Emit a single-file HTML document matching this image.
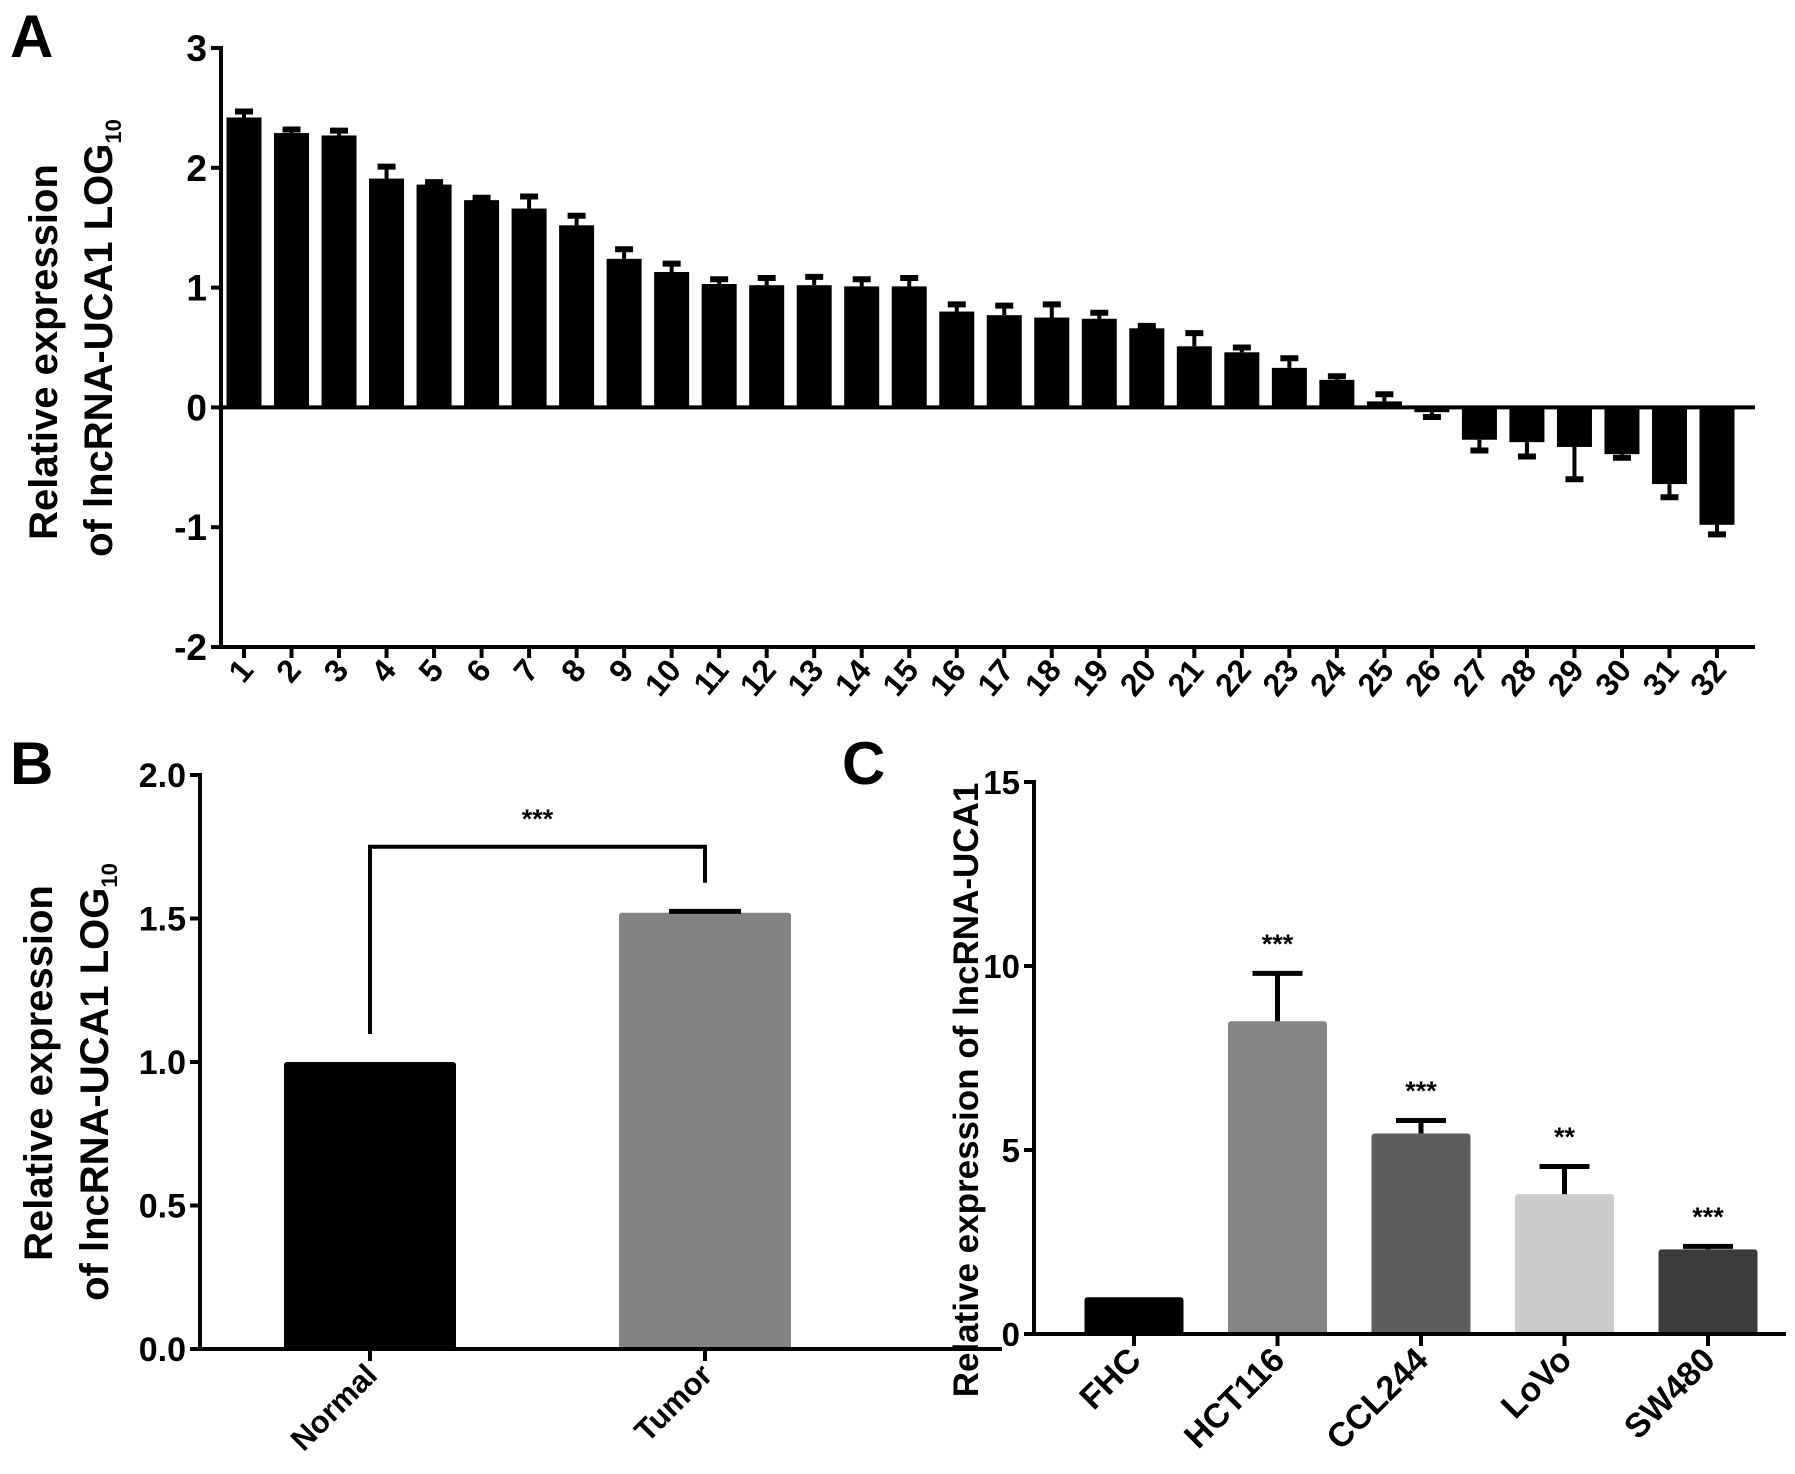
<!DOCTYPE html>
<html><head><meta charset="utf-8"><style>
html,body{margin:0;padding:0;background:#fff;}
svg{display:block;font-family:"Liberation Sans",Arial,sans-serif;font-weight:bold;}
</style></head><body>
<svg id="fig" width="1795" height="1474" viewBox="0 0 1795 1474" xmlns="http://www.w3.org/2000/svg">
<rect width="1795" height="1474" fill="#fff"/>
<text x="10" y="57" font-size="60">A</text>
<text x="10" y="784" font-size="60">B</text>
<text x="842" y="784" font-size="60">C</text>
<g id="gA"></g>
<g id="gB"></g>
<g id="gC"></g>
</svg>
<script>
// Panel A data
const aCategories = ["1","2","3","4","5","6","7","8","9","10","11","12","13","14","15","16","17","18","19","20","21","22","23","24","25","26","27","28","29","30","31","32"];
const aValues = [2.42,2.29,2.27,1.91,1.86,1.73,1.66,1.52,1.24,1.13,1.03,1.02,1.02,1.01,1.01,0.80,0.77,0.75,0.74,0.66,0.51,0.46,0.33,0.23,0.05,-0.04,-0.27,-0.29,-0.33,-0.39,-0.64,-0.98];
const aErrors = [0.05,0.03,0.04,0.10,0.02,0.02,0.10,0.08,0.08,0.07,0.04,0.06,0.07,0.06,0.07,0.06,0.08,0.11,0.05,0.02,0.11,0.04,0.08,0.03,0.06,0.04,0.09,0.12,0.27,0.03,0.11,0.08];
const aTicks = [3,2,1,0,-1,-2];
// Panel B data
const bCategories = ["Normal","Tumor"];
const bValues = [1.0,1.52];
const bErrors = [0,0.005];
const bTicks = ["0.0","0.5","1.0","1.5","2.0"];
// Panel C data
const cCategories = ["FHC","HCT116","CCL244","LoVo","SW480"];
const cValues = [1.0,8.5,5.45,3.8,2.3];
const cErrors = [0,1.3,0.35,0.75,0.08];
const cStars = ["","***","***","**","***"];
const cTicks = [0,5,10,15];

const NS="http://www.w3.org/2000/svg";
function mk(parent,tag,attrs,text){const e=document.createElementNS(NS,tag);for(const k in attrs)e.setAttribute(k,attrs[k]);if(text!==undefined)e.textContent=text;parent.appendChild(e);return e;}

// ---------- Panel A ----------
(function(){
const g=document.getElementById('gA');
const x0=221,xEnd=1755,yMin=-2,yMax=3,yTop=48,yBot=647;
const y=v=>yTop+(yMax-v)/(yMax-yMin)*(yBot-yTop);
const first=244,step=(1717-244)/(aCategories.length-1);
const x=i=>first+i*step;
const bw=35;
let l=mk(g,'line',{x1:x0,y1:yTop-2,x2:x0,y2:yBot,stroke:'#000','stroke-width':4});

l=mk(g,'line',{x1:x0,y1:yBot,x2:xEnd,y2:yBot,stroke:'#000','stroke-width':4});

aTicks.forEach(t=>{
  const tk=mk(g,'line',{x1:x0-10,y1:y(t),x2:x0,y2:y(t),stroke:'#000','stroke-width':4});
  
  const tx=mk(g,'text',{x:x0-14,y:y(t)+13,'font-size':37,'text-anchor':'end'},String(t));
  
});
aValues.forEach((v,i)=>{
  const cx=x(i);
  const top=Math.min(y(v),y(0)),h=Math.abs(y(v)-y(0));
  const r=mk(g,'rect',{x:cx-bw/2,y:top,width:bw,height:Math.max(h,1),fill:'#000'});
  
  const e=v>=0?v+aErrors[i]:v-aErrors[i];
  const el=mk(g,'line',{x1:cx,y1:y(v),x2:cx,y2:y(e),stroke:'#000','stroke-width':4});
  
  const ec=mk(g,'line',{x1:cx-9,y1:y(e),x2:cx+9,y2:y(e),stroke:'#000','stroke-width':6});
  
  const tk=mk(g,'line',{x1:cx,y1:yBot,x2:cx,y2:yBot+11,stroke:'#000','stroke-width':4});
  
  const tx=mk(g,'text',{x:0,y:0,'font-size':32,'text-anchor':'end',transform:`translate(${cx+11},${yBot+24}) rotate(-50)`},aCategories[i]);
  
});
const zl=mk(g,'line',{x1:x0,y1:y(0),x2:xEnd,y2:y(0),stroke:'#000','stroke-width':4});

const t1=mk(g,'text',{x:0,y:0,'font-size':40,'text-anchor':'middle',transform:`translate(57,352) rotate(-90)`},'Relative expression');

const t2=mk(g,'text',{x:0,y:0,'font-size':40,'text-anchor':'middle',transform:`translate(112,338) rotate(-90)`});

t2.innerHTML='of lncRNA-UCA1 LOG<tspan font-size="22" dy="9">10</tspan>';
})();

// ---------- Panel B ----------
(function(){
const g=document.getElementById('gB');
const x0=200,xEnd=1002,yTop=775,yBot=1349,yMax=2;
const y=v=>yBot-v/yMax*(yBot-yTop);
const cxs=[370,705],bw=172,colors=['#000','#838383'];
let l=mk(g,'line',{x1:x0,y1:yTop-2,x2:x0,y2:yBot,stroke:'#000','stroke-width':4});

bTicks.forEach(t=>{
  const v=parseFloat(t);
  const tk=mk(g,'line',{x1:x0-10,y1:y(v),x2:x0,y2:y(v),stroke:'#000','stroke-width':4});
  
  const tx=mk(g,'text',{x:x0-14,y:y(v)+12,'font-size':34,'text-anchor':'end'},t);
  
});
bValues.forEach((v,i)=>{
  const cx=cxs[i];
  const r=mk(g,'rect',{x:cx-bw/2,y:y(v),width:bw,height:y(0)-y(v),fill:colors[i],rx:3});
  
  if(bErrors[i]>0){
    const ec=mk(g,'line',{x1:cx-36,y1:y(v+bErrors[i]),x2:cx+36,y2:y(v+bErrors[i]),stroke:'#000','stroke-width':5});
    
  }
  const tk=mk(g,'line',{x1:cx,y1:yBot,x2:cx,y2:yBot+12,stroke:'#000','stroke-width':4});
  
  const tx=mk(g,'text',{x:0,y:0,'font-size':31,'text-anchor':'end',transform:`translate(${cx+9},${yBot+28}) rotate(-45)`},bCategories[i]);
  
});
l=mk(g,'line',{x1:x0,y1:yBot,x2:xEnd,y2:yBot,stroke:'#000','stroke-width':4});

const br=mk(g,'path',{d:`M${cxs[0]} ${y(bValues[0])-28} V${y(1.75)} H${cxs[1]} V${y(bValues[1])-30}`,fill:'none',stroke:'#000','stroke-width':4});

const st=mk(g,'text',{x:(cxs[0]+cxs[1])/2,y:y(1.85)+10,'font-size':27,'text-anchor':'middle'},'***');

const t1=mk(g,'text',{x:0,y:0,'font-size':40,'text-anchor':'middle',transform:`translate(52,1073) rotate(-90)`},'Relative expression');

const t2=mk(g,'text',{x:0,y:0,'font-size':40,'text-anchor':'middle',transform:`translate(108,1082) rotate(-90)`});

t2.innerHTML='of lncRNA-UCA1 LOG<tspan font-size="22" dy="9">10</tspan>';
})();

// ---------- Panel C ----------
(function(){
const g=document.getElementById('gC');
const x0=1034,xEnd=1786,yTop=782,yBot=1334,yMax=15;
const y=v=>yBot-v/yMax*(yBot-yTop);
const first=1134,step=(1708-1134)/4,bw=99;
const colors=['#000','#858585','#5e5e5e','#cbcbcb','#3c3c3c'];
let l=mk(g,'line',{x1:x0,y1:yTop-2,x2:x0,y2:yBot,stroke:'#000','stroke-width':4});

cTicks.forEach(t=>{
  const tk=mk(g,'line',{x1:x0-10,y1:y(t),x2:x0,y2:y(t),stroke:'#000','stroke-width':4});
  
  const tx=mk(g,'text',{x:x0-14,y:y(t)+12,'font-size':33,'text-anchor':'end'},String(t));
  
});
cValues.forEach((v,i)=>{
  const cx=first+i*step;
  const r=mk(g,'rect',{x:cx-bw/2,y:y(v),width:bw,height:y(0)-y(v),fill:colors[i],rx:3});
  
  if(cErrors[i]>0){
    const e=v+cErrors[i];
    const el=mk(g,'line',{x1:cx,y1:y(v),x2:cx,y2:y(e),stroke:'#000','stroke-width':5});
    
    const ec=mk(g,'line',{x1:cx-25,y1:y(e),x2:cx+25,y2:y(e),stroke:'#000','stroke-width':5});
    
    const st=mk(g,'text',{x:cx,y:y(e+0.8)+9,'font-size':27,'text-anchor':'middle'},cStars[i]);
    
  }
  const tk=mk(g,'line',{x1:cx,y1:yBot,x2:cx,y2:yBot+12,stroke:'#000','stroke-width':4});
  
  const tx=mk(g,'text',{x:0,y:0,'font-size':34,'text-anchor':'end',transform:`translate(${cx+9},${yBot+28}) rotate(-45)`},cCategories[i]);
  
});
l=mk(g,'line',{x1:x0,y1:yBot,x2:xEnd,y2:yBot,stroke:'#000','stroke-width':4});

const t1=mk(g,'text',{x:0,y:0,'font-size':35,'text-anchor':'middle',transform:`translate(978,1090) rotate(-90)`},'Relative expression of lncRNA-UCA1');

})();
</script>
</body></html>
